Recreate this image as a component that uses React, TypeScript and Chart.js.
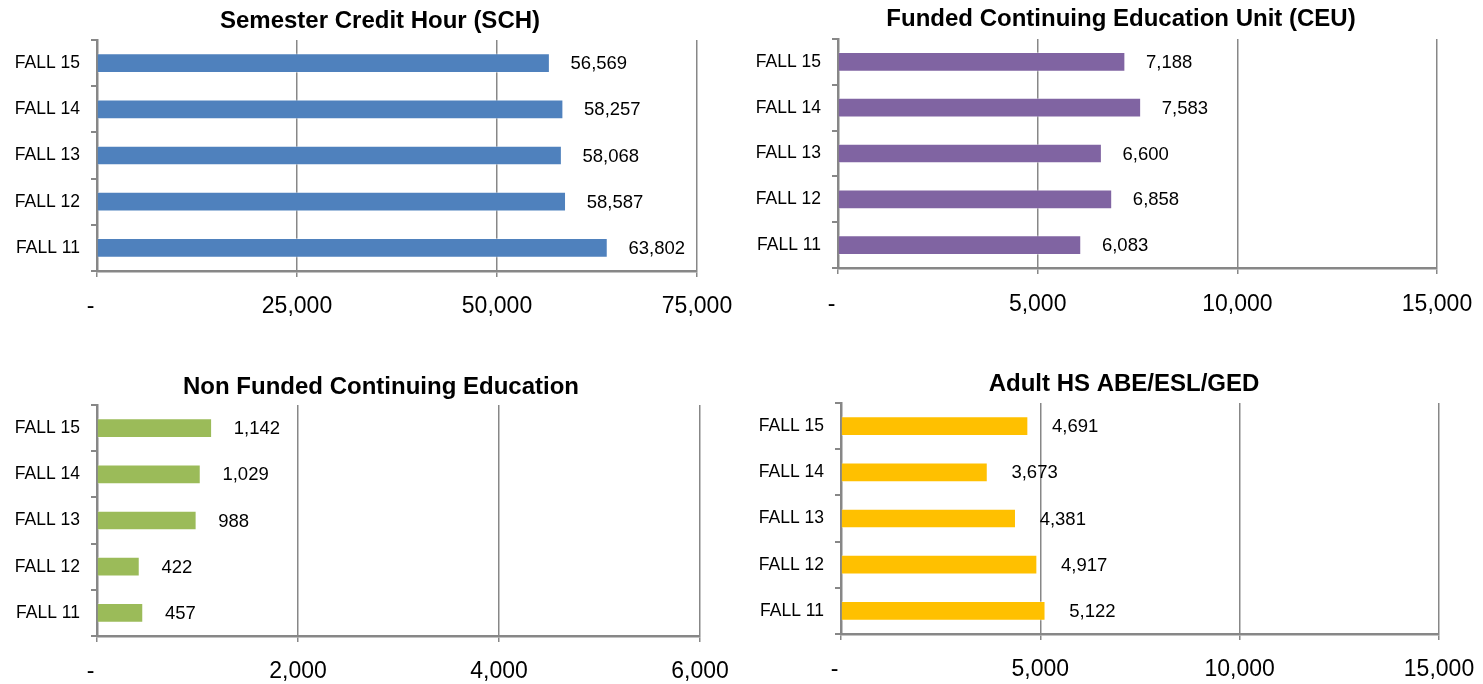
import React, { useEffect, useRef } from "react";
import { Chart, registerables } from "chart.js";

Chart.register(...registerables);

const categories = ["FALL 15", "FALL 14", "FALL 13", "FALL 12", "FALL 11"];

const schValues = [56569, 58257, 58068, 58587, 63802];
const ceuValues = [7188, 7583, 6600, 6858, 6083];
const nonFundedValues = [1142, 1029, 988, 422, 457];
const adultValues = [4691, 3673, 4381, 4917, 5122];

const schTitle = "Semester Credit Hour (SCH)";
const ceuTitle = "Funded Continuing Education Unit (CEU)";
const nonFundedTitle = "Non Funded Continuing Education";
const adultTitle = "Adult HS ABE/ESL/GED";

const schAxis = { max: 75000, step: 25000 };
const ceuAxis = { max: 15000, step: 5000 };
const nonFundedAxis = { max: 6000, step: 2000 };
const adultAxis = { max: 15000, step: 5000 };

const FONT = "'Liberation Sans', Arial, sans-serif";
const GRID = "#878787";

type Layout = {
  w: number;
  h: number;
  plotLeft: number;
  plotRight: number;
  plotTop: number;
  plotBottom: number;
  labelY: number;
  titleY: number;
  titleX: number;
  labelOffset: number;
};

type Props = {
  title: string;
  values: number[];
  color: string;
  axis: { max: number; step: number };
  layout: Layout;
};

const fmt = (v: number) => (v === 0 ? "-" : v.toLocaleString("en-US"));
const fmtTick = (v: number) => (v === 0 ? "-  " : v.toLocaleString("en-US"));

function BarPanel({ title, values, color, axis, layout }: Props) {
  const ref = useRef<HTMLCanvasElement | null>(null);
  useEffect(() => {
    if (!ref.current) return;
    const tickSize = 23;
    const tickLen = 6;
    const L = layout;
    const labelPlugin = {
      id: "valueLabels",
      afterDatasetsDraw(chart: any) {
        const ctx = chart.ctx;
        const meta = chart.getDatasetMeta(0);
        ctx.save();
        ctx.font = `18.5px ${FONT}`;
        ctx.fillStyle = "#000";
        ctx.textAlign = "left";
        ctx.textBaseline = "middle";
        meta.data.forEach((bar: any, i: number) => {
          ctx.fillText(fmt(values[i]), bar.x + L.labelOffset, bar.y + 1);
        });
        ctx.font = `bold 24px ${FONT}`;
        ctx.textAlign = "center";
        ctx.fillText(title, L.titleX, L.titleY);
        ctx.restore();
      },
    };
    const chart = new Chart(ref.current, {
      type: "bar",
      data: {
        labels: categories,
        datasets: [
          {
            data: values,
            backgroundColor: color,
            borderColor: "rgba(255,255,255,0.35)",
            borderWidth: 1,
            barThickness: 19,
          },
        ],
      },
      options: {
        animation: false,
        responsive: false,
        devicePixelRatio: 1,
        indexAxis: "y",
        layout: { padding: { left: 0, right: L.w - L.plotRight, top: L.plotTop, bottom: 0 } },
        plugins: {
          legend: { display: false },
          tooltip: { enabled: false },
          title: { display: false },
        },
        scales: {
          x: {
            min: 0,
            max: axis.max,
            ticks: {
              stepSize: axis.step,
              color: "#000",
              font: { family: FONT, size: tickSize, lineHeight: 1.2 },
              padding: L.labelY - L.plotBottom - tickLen - (tickSize * 1.2) / 2 + 2,
              callback: (v: any) => fmtTick(Number(v)),
              maxRotation: 0,
            },
            grid: { color: GRID, lineWidth: 1.5, tickLength: tickLen, drawTicks: true },
            border: { color: GRID, width: 2.5 },
            afterFit: (s: any) => {
              s.height = L.h - L.plotBottom;
              s.paddingLeft = 0;
              s.paddingRight = 0;
            },
          },
          y: {
            ticks: {
              color: "#000",
              font: { family: FONT, size: 17.5 },
              padding: 11,
            },
            grid: {
              offset: true,
              drawOnChartArea: false,
              drawTicks: true,
              tickLength: tickLen,
              color: GRID,
              lineWidth: 2,
            },
            border: { color: GRID, width: 2.5 },
            afterFit: (s: any) => {
              s.width = L.plotLeft;
              s.paddingTop = 0;
              s.paddingBottom = 0;
            },
          },
        },
      },
      plugins: [labelPlugin],
    } as any);
    return () => chart.destroy();
  }, [title, values, color, axis, layout]);
  return <canvas ref={ref} width={layout.w} height={layout.h} style={{ display: "block" }} />;
}

const topLeft: Layout = { w: 741, h: 342, plotLeft: 97, plotRight: 697, plotTop: 40, plotBottom: 271, labelY: 305, titleY: 21, titleX: 380, labelOffset: 21 };
const topRight: Layout = { w: 742, h: 342, plotLeft: 97, plotRight: 696, plotTop: 39, plotBottom: 268, labelY: 303, titleY: 19, titleX: 380, labelOffset: 21 };
const bottomLeft: Layout = { w: 741, h: 342, plotLeft: 97, plotRight: 700, plotTop: 63, plotBottom: 294, labelY: 328, titleY: 45, titleX: 381, labelOffset: 22 };
const bottomRight: Layout = { w: 742, h: 342, plotLeft: 100, plotRight: 698, plotTop: 61, plotBottom: 292, labelY: 326, titleY: 42, titleX: 383, labelOffset: 24 };

export default function App() {
  const cell = (x: number, y: number): React.CSSProperties => ({ position: "absolute", left: x, top: y });
  return (
    <div style={{ position: "absolute", left: 0, top: 0, width: 1483, height: 684, background: "#fff", overflow: "hidden" }}>
      <div style={cell(0, 0)}>
        <BarPanel title={schTitle} values={schValues} color="#4F81BD" axis={schAxis} layout={topLeft} />
      </div>
      <div style={cell(741, 0)}>
        <BarPanel title={ceuTitle} values={ceuValues} color="#8064A2" axis={ceuAxis} layout={topRight} />
      </div>
      <div style={cell(0, 342)}>
        <BarPanel title={nonFundedTitle} values={nonFundedValues} color="#9BBB59" axis={nonFundedAxis} layout={bottomLeft} />
      </div>
      <div style={cell(741, 342)}>
        <BarPanel title={adultTitle} values={adultValues} color="#FFC000" axis={adultAxis} layout={bottomRight} />
      </div>
    </div>
  );
}
